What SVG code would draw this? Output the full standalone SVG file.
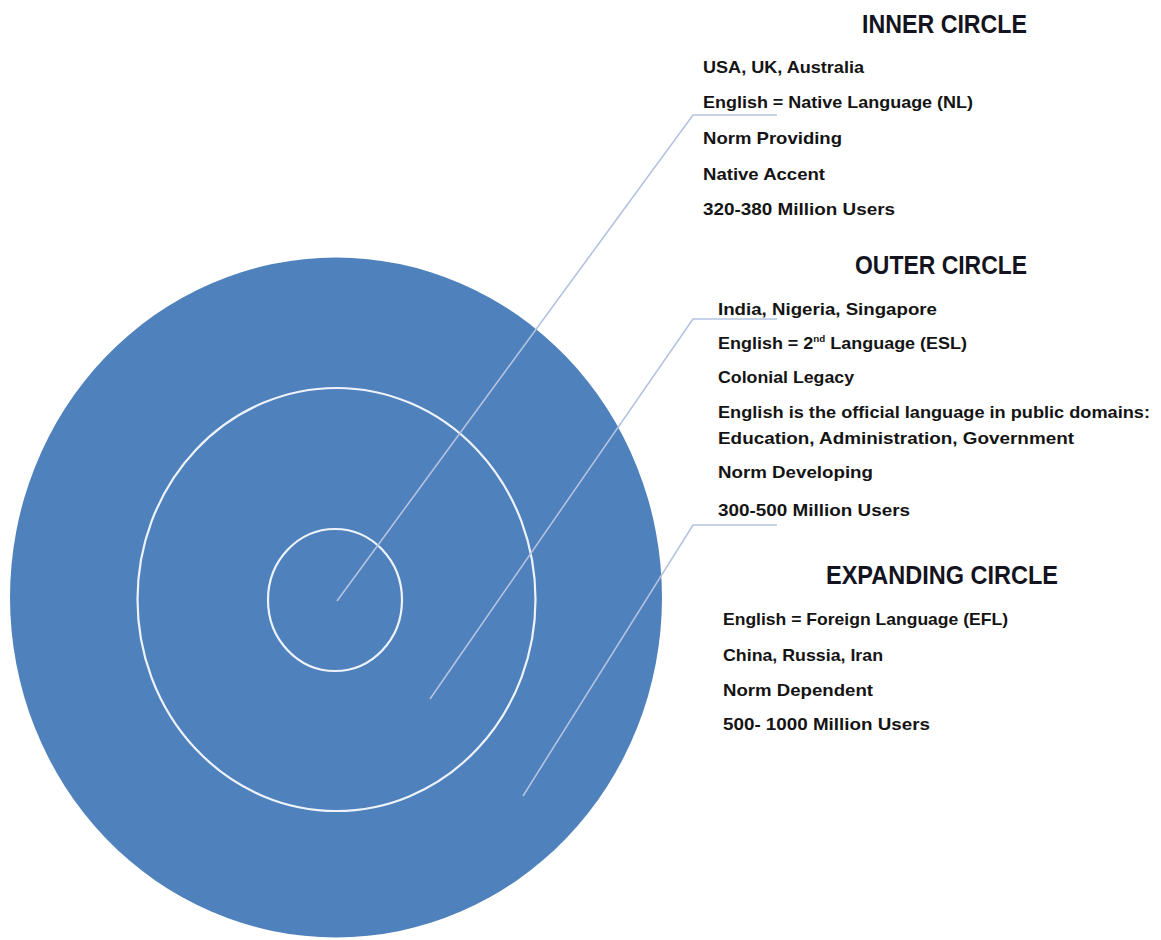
<svg xmlns="http://www.w3.org/2000/svg" width="1161" height="940" viewBox="0 0 1161 940">
<style>
.ring{fill:none;stroke:#eef3fa;stroke-width:2.2}
.conn{fill:none;stroke:#b3c3df;stroke-width:1.6}
.t{font-family:"Liberation Sans",Arial,sans-serif;font-weight:bold;font-size:16.5px;fill:#141414}
.h{font-family:"Liberation Sans",Arial,sans-serif;font-weight:bold;font-size:25px;fill:#141420}
</style>
<rect width="1161" height="940" fill="#ffffff"/>
<g id="expanding-circle">
<ellipse cx="336" cy="597.5" rx="326" ry="340" fill="#4f81bd"/>
</g>
<g id="outer-circle">
<ellipse class="ring" cx="336.5" cy="599.5" rx="199" ry="211.5"/>
</g>
<g id="inner-circle">
<ellipse class="ring" cx="335" cy="600" rx="67" ry="71"/>
</g>
<g id="connectors">
<polyline class="conn" points="337,601 693,115 777,115"/>
<polyline class="conn" points="430,699 693,319 777,319"/>
<polyline class="conn" points="523,796 693,525 777,525"/>
</g>
<g id="inner-label">
<text class="h" x="862" y="33" textLength="165" lengthAdjust="spacingAndGlyphs">INNER CIRCLE</text>
<text class="t" x="703" y="73" textLength="161" lengthAdjust="spacingAndGlyphs">USA, UK, Australia</text>
<text class="t" x="703" y="108" textLength="270" lengthAdjust="spacingAndGlyphs">English = Native Language (NL)</text>
<text class="t" x="703" y="144" textLength="139" lengthAdjust="spacingAndGlyphs">Norm Providing</text>
<text class="t" x="703" y="180" textLength="122" lengthAdjust="spacingAndGlyphs">Native Accent</text>
<text class="t" x="703" y="215" textLength="192" lengthAdjust="spacingAndGlyphs">320-380  Million Users</text>
</g>
<g id="outer-label">
<text class="h" x="855" y="274" textLength="172" lengthAdjust="spacingAndGlyphs">OUTER CIRCLE</text>
<text class="t" x="718" y="315" textLength="219" lengthAdjust="spacingAndGlyphs">India,  Nigeria, Singapore</text>
<text class="t" x="718" y="349" textLength="249" lengthAdjust="spacingAndGlyphs">English = 2<tspan font-size="9" dy="-7">nd</tspan><tspan dy="7"> Language (ESL)</tspan></text>
<text class="t" x="718" y="383" textLength="136" lengthAdjust="spacingAndGlyphs">Colonial  Legacy</text>
<text class="t" x="718" y="418" textLength="432" lengthAdjust="spacingAndGlyphs">English is the official language in public domains:</text>
<text class="t" x="718" y="444" textLength="356" lengthAdjust="spacingAndGlyphs">Education,  Administration, Government</text>
<text class="t" x="718" y="478" textLength="155" lengthAdjust="spacingAndGlyphs">Norm Developing</text>
<text class="t" x="718" y="516" textLength="192" lengthAdjust="spacingAndGlyphs">300-500  Million Users</text>
</g>
<g id="expanding-label">
<text class="h" x="826" y="584" textLength="232" lengthAdjust="spacingAndGlyphs">EXPANDING CIRCLE</text>
<text class="t" x="723" y="625" textLength="285" lengthAdjust="spacingAndGlyphs">English = Foreign Language (EFL)</text>
<text class="t" x="723" y="661" textLength="160" lengthAdjust="spacingAndGlyphs">China,  Russia, Iran</text>
<text class="t" x="723" y="696" textLength="150" lengthAdjust="spacingAndGlyphs">Norm Dependent</text>
<text class="t" x="723" y="730" textLength="207" lengthAdjust="spacingAndGlyphs">500- 1000 Million  Users</text>
</g>
</svg>
